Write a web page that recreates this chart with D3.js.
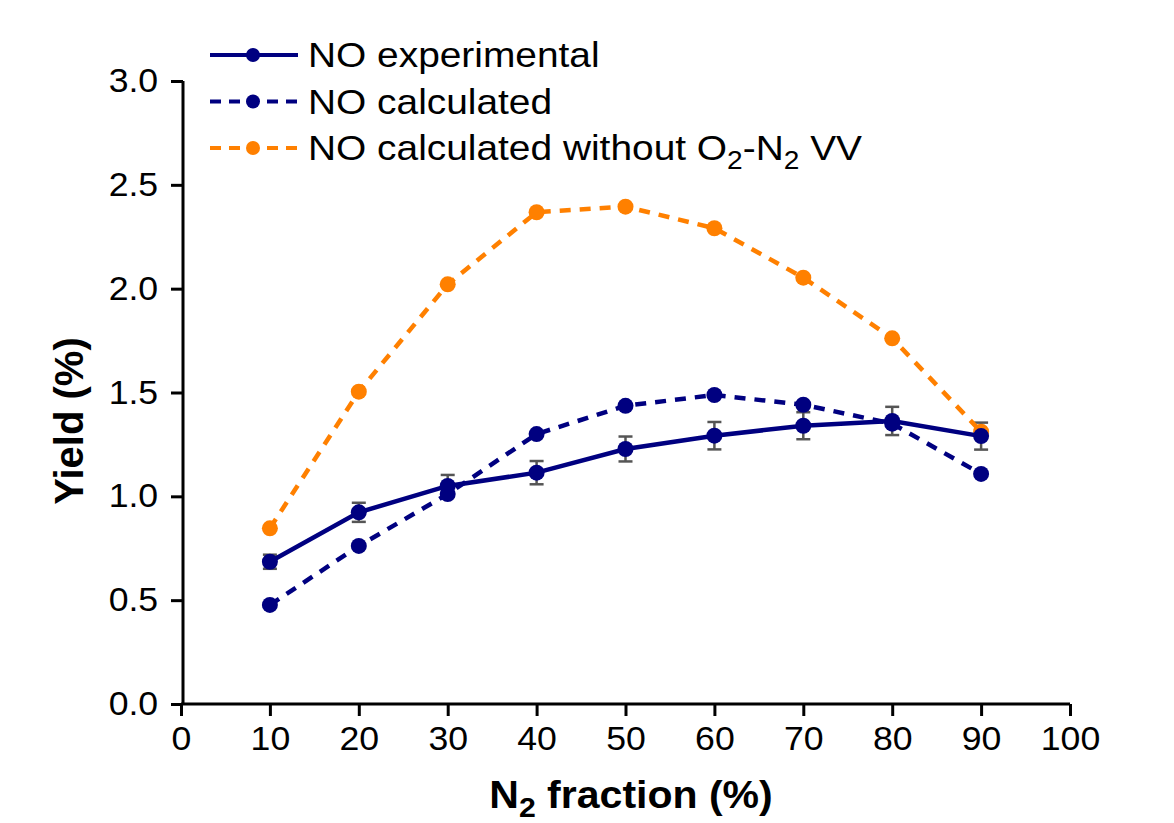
<!DOCTYPE html>
<html>
<head>
<meta charset="utf-8">
<script src="https://cdn.jsdelivr.net/npm/d3@7"></script>
<style>
body { margin: 0; background: #fff; }
text { font-family: "Liberation Sans", Arial, sans-serif; }
</style>
</head>
<body>
<svg width="1174" height="823"></svg>
<script>
var svg = d3.select("svg");

// data
var fractions = [10, 20, 30, 40, 50, 60, 70, 80, 90];
var experimental = [0.685, 0.923, 1.05, 1.114, 1.228, 1.292, 1.34, 1.363, 1.29];
var expError = [0.034, 0.046, 0.053, 0.056, 0.06, 0.066, 0.065, 0.068, 0.065];
var calculated = [0.477, 0.761, 1.011, 1.30, 1.436, 1.488, 1.441, 1.35, 1.108];
var withoutVV = [0.846, 1.504, 2.021, 2.368, 2.395, 2.291, 2.053, 1.761, 1.311];
var xTicks = [0, 10, 20, 30, 40, 50, 60, 70, 80, 90, 100];
var yTicks = [0, 0.5, 1.0, 1.5, 2.0, 2.5, 3.0];

var navy = "#000080";
var orange = "#ff8000";
var stretch = "scale(1.08,1)"; // the text in the original is a bit wide

var x = d3.scaleLinear().domain([0, 100]).range([181, 1070]);
var y = d3.scaleLinear().domain([0, 3]).range([704, 81]);

// axes
var xAxis = svg.append("g")
	.attr("transform", "translate(0,704)")
	.call(d3.axisBottom(x).tickValues(xTicks).tickSize(12).tickPadding(11));
var yAxis = svg.append("g")
	.attr("transform", "translate(183,0)")
	.call(d3.axisLeft(y).tickValues(yTicks).tickSize(12).tickPadding(11).tickFormat(d3.format(".1f")));

[xAxis, yAxis].forEach(g => {
	g.select(".domain").attr("stroke", "#000").attr("stroke-width", 3);
	g.selectAll(".tick line").attr("stroke", "#000").attr("stroke-width", 3);
	g.selectAll(".tick text")
		.attr("fill", "#000")
		.attr("transform", stretch)
		.style("font-size", "33px");
});
xAxis.select(".domain").attr("d", "M181,0H1070");
yAxis.select(".domain").attr("d", "M0,81V705");

// axis titles
svg.append("text")
	.attr("transform", "translate(83,421) rotate(-90)")
	.attr("text-anchor", "middle")
	.style("font-size", "40px")
	.style("font-weight", "bold")
	.text("Yield (%)");

var xTitle = svg.append("text")
	.attr("transform", "translate(631,808) " + stretch)
	.attr("text-anchor", "middle")
	.style("font-size", "38px")
	.style("font-weight", "bold");
xTitle.append("tspan").text("N");
xTitle.append("tspan").attr("dy", 9).style("font-size", "28px").text("2");
xTitle.append("tspan").attr("dy", -9).text(" fraction (%)");

var line = d3.line()
	.x((d, i) => x(fractions[i]))
	.y(d => y(d));

var series = [
	{ values: withoutVV, color: orange, dash: "11,9" },
	{ values: calculated, color: navy, dash: "11,9" },
	{ values: experimental, color: navy, dash: null }
];

// error bars on experimental
var err = svg.append("g")
	.selectAll("g")
	.data(experimental)
	.enter()
	.append("g")
	.attr("stroke", "#555")
	.attr("stroke-width", 2.5);
err.append("line")
	.attr("x1", (d, i) => x(fractions[i]))
	.attr("x2", (d, i) => x(fractions[i]))
	.attr("y1", (d, i) => y(d - expError[i]))
	.attr("y2", (d, i) => y(d + expError[i]));
err.append("line")
	.attr("x1", (d, i) => x(fractions[i]) - 7)
	.attr("x2", (d, i) => x(fractions[i]) + 7)
	.attr("y1", (d, i) => y(d + expError[i]))
	.attr("y2", (d, i) => y(d + expError[i]));
err.append("line")
	.attr("x1", (d, i) => x(fractions[i]) - 7)
	.attr("x2", (d, i) => x(fractions[i]) + 7)
	.attr("y1", (d, i) => y(d - expError[i]))
	.attr("y2", (d, i) => y(d - expError[i]));

series.forEach(s => {
	svg.append("path")
		.datum(s.values)
		.attr("d", line)
		.attr("fill", "none")
		.attr("stroke", s.color)
		.attr("stroke-width", 4.5)
		.attr("stroke-dasharray", s.dash);
	svg.append("g")
		.selectAll("circle")
		.data(s.values)
		.enter()
		.append("circle")
		.attr("cx", (d, i) => x(fractions[i]))
		.attr("cy", d => y(d))
		.attr("r", 8)
		.attr("fill", s.color);
});

// legend
var legendItems = [
	{ label: "NO experimental", color: navy, dash: null },
	{ label: "NO calculated", color: navy, dash: "11,8" },
	{ label: "NO calculated without ", color: orange, dash: "11,8", extra: true }
];
var legend = svg.append("g")
	.selectAll("g")
	.data(legendItems)
	.enter()
	.append("g")
	.attr("transform", (d, i) => "translate(0," + (55 + i * 46.5) + ")");
legend.append("line")
	.attr("x1", 210).attr("x2", 298)
	.attr("stroke", d => d.color)
	.attr("stroke-width", 4)
	.attr("stroke-dasharray", d => d.dash);
legend.append("circle")
	.attr("cx", 253)
	.attr("r", 7)
	.attr("fill", d => d.color);
var legendText = legend.append("text")
	.attr("transform", "translate(308,12) " + stretch)
	.style("font-size", "36px")
	.attr("fill", "#000")
	.text(d => d.label);
legendText.filter(d => d.extra).each(function() {
	var t = d3.select(this);
	t.append("tspan").text("O");
	t.append("tspan").attr("dy", 9).style("font-size", "26px").text("2");
	t.append("tspan").attr("dy", -9).text("-N");
	t.append("tspan").attr("dy", 9).style("font-size", "26px").text("2");
	t.append("tspan").attr("dy", -9).text(" VV");
});
</script>
</body>
</html>
